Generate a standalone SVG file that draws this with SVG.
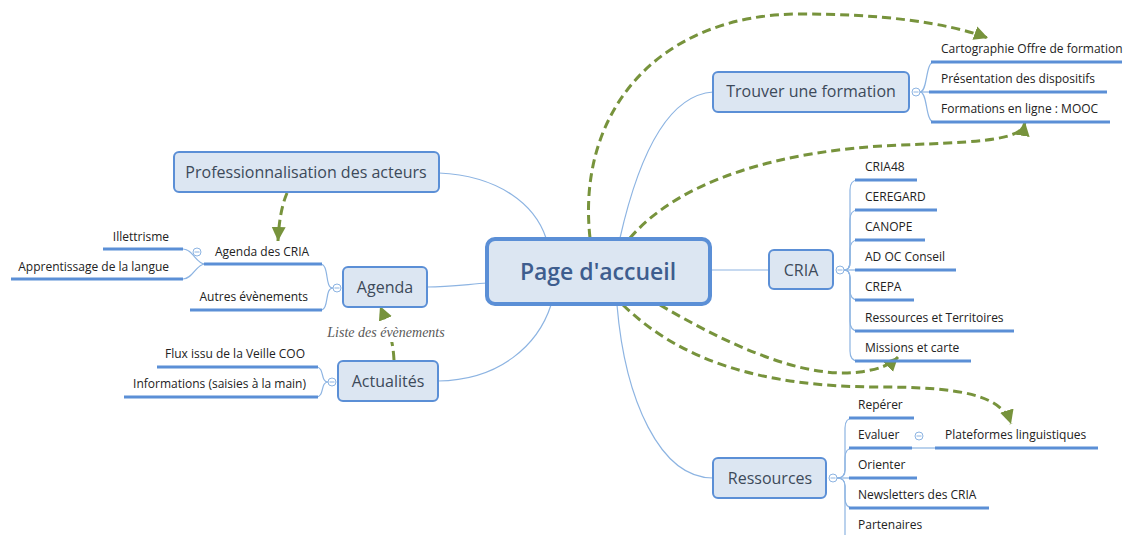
<svg xmlns="http://www.w3.org/2000/svg" width="1125" height="535" viewBox="0 0 1125 535">
<style>
.box{fill:#dce6f2;stroke:#5b8fd6;stroke-width:2}
.main{fill:#dce6f2;stroke:#5b8fd6;stroke-width:4}
.tt{font-family:"Open Sans","Noto Sans",sans-serif;font-size:16px;fill:#3d4a5a;text-anchor:middle}
.ct{font-family:"Open Sans","Noto Sans",sans-serif;font-size:23px;fill:#3e5d8e;text-anchor:middle;font-weight:600}
.st{font-family:"Open Sans","Noto Sans",sans-serif;font-size:12px;fill:#222}
.end{text-anchor:end}
.ul{stroke:#5b8fd6;stroke-width:3;fill:none}
.br{stroke:#8db4e2;stroke-width:1.2;fill:none}
.cc{fill:#fff;stroke:#8db4e2;stroke-width:1}
.rel{stroke:#77933c;stroke-width:3;fill:none;stroke-dasharray:9 5}
.lbl{font-family:"Liberation Serif",serif;font-style:italic;font-size:14px;fill:#595959;text-anchor:middle}
</style>
<defs>
<marker id="ah" markerUnits="userSpaceOnUse" markerWidth="16" markerHeight="16" viewBox="0 0 16 16" refX="14" refY="8" orient="auto">
<path d="M0,1 L14,8 L0,15 Z" fill="#77933c"/>
</marker>
</defs>
<rect width="1125" height="535" fill="#fff"/>

<g id="branches">
<path class="br" d="M439,173 C500,176 535,205 546,238"/>
<path class="br" d="M427,287 C450,287 470,284 487,283"/>
<path class="br" d="M438,381 C500,380 538,345 551,305"/>
<path class="br" d="M620,238 C640,150 670,95 713,92"/>
<path class="br" d="M710,270 L769,270"/>
<path class="br" d="M617,305 C625,400 660,478 713,478"/>
<!-- Trouver children -->
<path class="br" d="M920,92 C928,92 925,62 934,62"/>
<path class="br" d="M920,92 L930,92"/>
<path class="br" d="M920,92 C928,92 925,122 934,122"/>
<!-- CRIA children -->
<path class="br" d="M844,270 Q850,270 850,262 L850,190 Q850,180 858,180"/>
<path class="br" d="M844,270 Q850,270 850,262 L850,220 Q850,210 858,210"/>
<path class="br" d="M844,270 Q850,270 850,262 L850,250 Q850,240 858,240"/>
<path class="br" d="M844,270 L856,270"/>
<path class="br" d="M844,270 Q850,270 850,278 L850,290 Q850,300 858,300"/>
<path class="br" d="M844,270 Q850,270 850,278 L850,321 Q850,331 858,331"/>
<path class="br" d="M844,270 Q850,270 850,278 L850,351 Q850,361 858,361"/>
<!-- Ressources children -->
<path class="br" d="M837,478 Q845,478 845,470 L845,428 Q845,418 853,418"/>
<path class="br" d="M837,478 Q845,478 845,470 L845,458 Q845,448 853,448"/>
<path class="br" d="M837,478 L850,478"/>
<path class="br" d="M837,478 Q845,478 845,486 L845,498 Q845,508 853,508"/>
<path class="br" d="M837,478 Q845,478 845,486 L845,535"/>
<path class="br" d="M912,448 L936,448"/>
<!-- Agenda children -->
<path class="br" d="M333,288 C324,288 330,264 320,264"/>
<path class="br" d="M333,288 C324,288 330,310 320,310"/>
<path class="br" d="M205,264 C196,264 193,249 183,249"/>
<path class="br" d="M205,264 C196,264 193,279 183,279"/>
<!-- Actualites children -->
<path class="br" d="M328,382 C320,382 325,367 316,367"/>
<path class="br" d="M328,382 C320,382 325,397 316,397"/>
</g>

<g id="relations">
<path class="rel" d="M590,238 C576,110 660,14 800,14 C880,14 945,22 988,38" marker-end="url(#ah)"/>
<path class="rel" d="M630,238 C680,180 780,150 900,145 C985,142 1022,140 1025,122" marker-end="url(#ah)"/>
<path class="rel" d="M660,305 C720,340 800,380 860,372 C880,369 890,365 898,357" marker-end="url(#ah)"/>
<path class="rel" d="M623,305 C680,360 760,387 880,387 C960,387 1002,395 1011,424" marker-end="url(#ah)"/>
<path class="rel" d="M287,193 C282,205 279,220 278,241" marker-end="url(#ah)"/>
<path class="rel" d="M394,360 C393,340 388,325 380,306" marker-end="url(#ah)"/>
<rect x="322" y="323" width="128" height="19" fill="#fff"/>
<text class="lbl" x="386" y="337">Liste des évènements</text>
</g>

<g id="page-accueil">
<rect class="main" x="487" y="239" width="223" height="65" rx="8"/>
<text class="ct" x="598" y="280">Page d'accueil</text>
</g>

<g id="trouver-formation">
<rect class="box" x="713" y="72" width="196" height="40" rx="5"/>
<text class="tt" x="811" y="97">Trouver une formation</text>
<circle class="cc" cx="916" cy="92" r="4"/><path d="M913.5,92 H918.5" stroke="#8db4e2"/>
</g>
<g id="cartographie"><text class="st" x="941" y="53">Cartographie Offre de formation</text><path class="ul" d="M931,62 H1122"/></g>
<g id="presentation"><text class="st" x="941" y="83">Présentation des dispositifs</text><path class="ul" d="M929,92 H1107"/></g>
<g id="mooc"><text class="st" x="941" y="113">Formations en ligne : MOOC</text><path class="ul" d="M931,122 H1110"/></g>

<g id="cria">
<rect class="box" x="769" y="250" width="64" height="39" rx="5"/>
<text class="tt" x="801" y="276">CRIA</text>
<circle class="cc" cx="840" cy="270" r="4"/><path d="M837.5,270 H842.5" stroke="#8db4e2"/>
</g>
<g id="cria48"><text class="st" x="865" y="171">CRIA48</text><path class="ul" d="M855,180 H917"/></g>
<g id="ceregard"><text class="st" x="865" y="201">CEREGARD</text><path class="ul" d="M855,210 H937"/></g>
<g id="canope"><text class="st" x="865" y="231">CANOPE</text><path class="ul" d="M855,240 H925"/></g>
<g id="adoc"><text class="st" x="865" y="261">AD OC Conseil</text><path class="ul" d="M855,270 H956"/></g>
<g id="crepa"><text class="st" x="865" y="291">CREPA</text><path class="ul" d="M855,300 H914"/></g>
<g id="ressources-territoires"><text class="st" x="865" y="322">Ressources et Territoires</text><path class="ul" d="M855,331 H1014"/></g>
<g id="missions"><text class="st" x="865" y="352">Missions et carte</text><path class="ul" d="M855,361 H971"/></g>

<g id="ressources">
<rect class="box" x="713" y="458" width="113" height="40" rx="5"/>
<text class="tt" x="770" y="484">Ressources</text>
<circle class="cc" cx="833" cy="478" r="4"/><path d="M830.5,478 H835.5" stroke="#8db4e2"/>
</g>
<g id="reperer"><text class="st" x="858" y="409">Repérer</text><path class="ul" d="M849,418 H914"/></g>
<g id="evaluer"><text class="st" x="858" y="439">Evaluer</text><path class="ul" d="M849,448 H912"/>
<circle class="cc" cx="919" cy="436" r="4"/><path d="M916.5,436 H921.5" stroke="#8db4e2"/></g>
<g id="plateformes"><text class="st" x="945" y="439">Plateformes linguistiques</text><path class="ul" d="M935,448 H1098"/></g>
<g id="orienter"><text class="st" x="858" y="469">Orienter</text><path class="ul" d="M849,478 H917"/></g>
<g id="newsletters"><text class="st" x="858" y="499">Newsletters des CRIA</text><path class="ul" d="M849,508 H989"/></g>
<g id="partenaires"><text class="st" x="858" y="529">Partenaires</text><path class="ul" d="M849,538 H930"/></g>

<g id="professionnalisation">
<rect class="box" x="174" y="152" width="265" height="40" rx="5"/>
<text class="tt" x="306" y="178">Professionnalisation des acteurs</text>
</g>

<g id="agenda">
<rect class="box" x="343" y="267" width="84" height="40" rx="5"/>
<text class="tt" x="385" y="293">Agenda</text>
<circle class="cc" cx="337" cy="288" r="4"/><path d="M334.5,288 H339.5" stroke="#8db4e2"/>
</g>
<g id="agenda-cria"><text class="st" x="215" y="256">Agenda des CRIA</text><path class="ul" d="M204,264 H322"/>
<circle class="cc" cx="197" cy="252" r="4"/><path d="M194.5,252 H199.5" stroke="#8db4e2"/></g>
<g id="illettrisme"><text class="st end" x="169" y="241">Illettrisme</text><path class="ul" d="M103,249 H183"/></g>
<g id="apprentissage"><text class="st end" x="169" y="271">Apprentissage de la langue</text><path class="ul" d="M11,279 H183"/></g>
<g id="autres"><text class="st end" x="308" y="301">Autres évènements</text><path class="ul" d="M190,310 H322"/></g>

<g id="actualites">
<rect class="box" x="338" y="361" width="100" height="40" rx="5"/>
<text class="tt" x="388" y="387">Actualités</text>
<circle class="cc" cx="332" cy="382" r="4"/><path d="M329.5,382 H334.5" stroke="#8db4e2"/>
</g>
<g id="flux"><text class="st end" x="305" y="358">Flux issu de la Veille COO</text><path class="ul" d="M157,367 H318"/></g>
<g id="informations"><text class="st end" x="306" y="388">Informations (saisies à la main)</text><path class="ul" d="M124,397 H318"/></g>
</svg>
